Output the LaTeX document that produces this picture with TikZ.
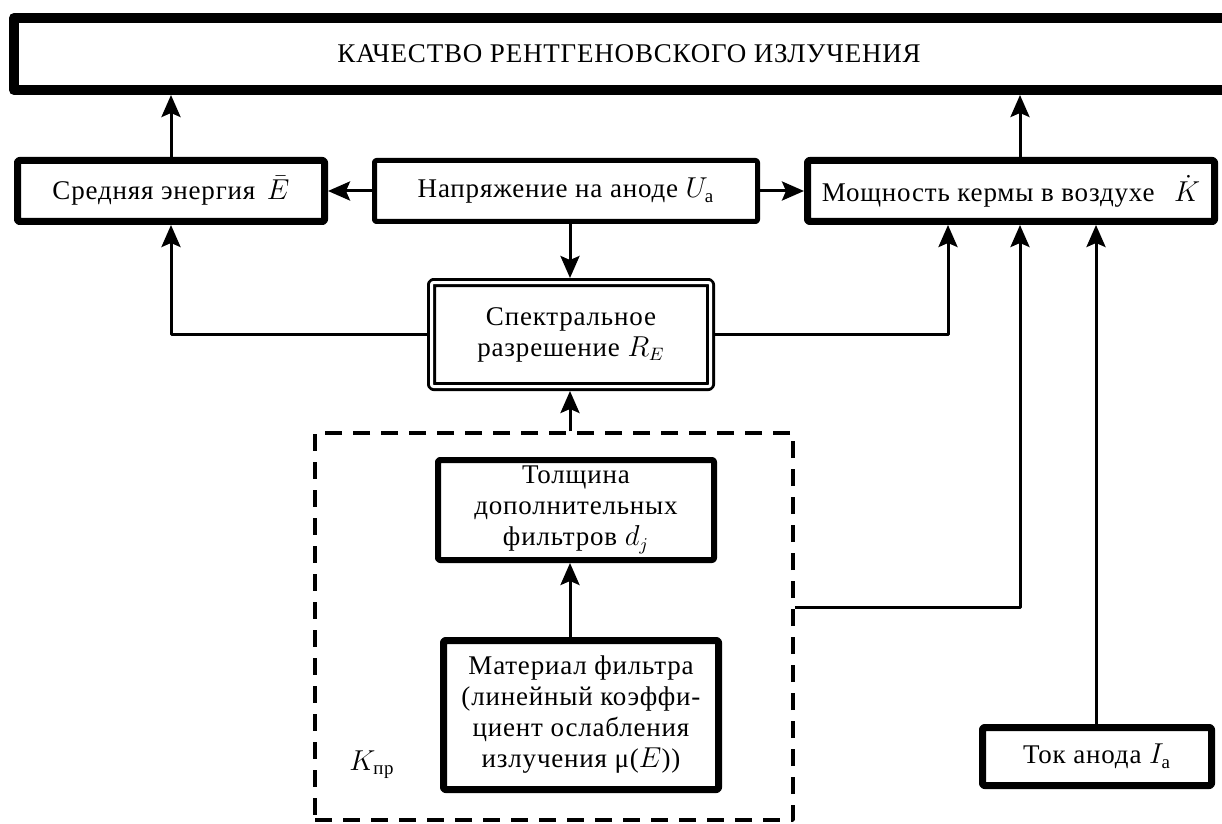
\documentclass[tikz,border=0pt]{standalone}
\usepackage{amsmath}
\usepackage{fontspec}
\setmainfont{LiberationSerif}[Extension=.ttf, UprightFont=*-Regular, ItalicFont=*-Italic, BoldFont=*-Bold, BoldItalicFont=*-BoldItalic, LetterSpace=3]
\usetikzlibrary{arrows.meta}

\begin{document}
\begin{tikzpicture}[x=0.5pt,y=-0.5pt, font=\fontsize{13.5}{15.5}\selectfont, line join=round,
  >={Stealth[length=11pt,width=9.5pt,inset=2pt]},
  box/.style={draw, rectangle, line width=3.5pt, align=center, inner sep=0pt, rounded corners=1pt},
  thinbox/.style={box, line width=2.5pt},
  dblbox/.style={box, line width=1.5pt, double, double distance=1.5pt, outer sep=2.25pt},
  groupbox/.style={draw, rectangle, line width=1.75pt, dash pattern=on 8.5pt off 5.5pt, inner sep=0pt},
  conn/.style={line width=1.5pt}]
\useasboundingbox (0,0) rectangle (1222,824);
% quality and its inputs
\node[box, line width=5pt, rounded corners=0pt, minimum width=615pt, minimum height=36pt] (quality) at (629,54) {КАЧЕСТВО РЕНТГЕНОВСКОГО ИЗЛУЧЕНИЯ};
\draw[line width=0.75pt] ([shift={(8,8)}]quality.north west) rectangle ([shift={(-8,-8)}]quality.south east);
\node[box, minimum width=153.5pt, minimum height=30.5pt] (mean) at (171,191) {Средняя энергия\hspace{2pt} $\bar{E}$};
\node[thinbox, minimum width=191.5pt, minimum height=30.5pt] (voltage) at (566,191) {Напряжение на аноде $U_{\text{а}}$};
\node[box, minimum width=203.5pt, minimum height=30.5pt] (kerma) at (1011,191) {Мощность кермы в воздухе\hspace{6pt} $\dot{K}$};
\node[dblbox, minimum width=139.5pt, minimum height=52pt] (spectral) at (571,334.5) {Спектральное\\разрешение $R_E$};
% filters group
\node[groupbox, minimum width=239pt, minimum height=193.5pt] (filters) at (554,626.5) {};
\node[box, line width=3pt, minimum width=138pt, minimum height=50pt] (thickness) at (576,510) {Толщина\\дополнительных\\фильтров $d_j$};
\node[box, minimum width=137.5pt, minimum height=74.5pt] (material) at (581,715) {Материал фильтра\\(линейный коэффи-\\циент ослабления\\излучения μ($E$))};
\node (kpr) at (372,765) {$K_{\text{пр}}$};
\node[box, minimum width=114.5pt, minimum height=29pt] (current) at (1097,756.5) {Ток анода $I_{\text{а}}$};
\coordinate (vx) at (570,0);
\coordinate (kl) at (948,0);
\coordinate (km) at (1020,0);
\coordinate (kr) at (1096,0);
\coordinate (fy) at (0,607);
% connectors
\draw[conn,->] (mean.north) -- (mean.north |- quality.south);
\draw[conn,->] (km |- kerma.north) -- (km |- quality.south);
\draw[conn,->] (voltage.west) -- (mean.east);
\draw[conn,->] (voltage.east) -- (kerma.west);
\draw[conn,->] (vx |- voltage.south) -- (vx |- spectral.north);
\draw[conn,->] (spectral.west) -| (mean.south);
\draw[conn,->] (spectral.east) -| (kl |- kerma.south);
\draw[conn,->] (vx |- filters.north) -- (vx |- spectral.south);
\draw[conn,->] (vx |- material.north) -- (vx |- thickness.south);
\draw[conn,->] (filters.east |- fy) -| (km |- kerma.south);
\draw[conn,->] (kr |- current.north) -- (kr |- kerma.south);
\end{tikzpicture}
\end{document}
